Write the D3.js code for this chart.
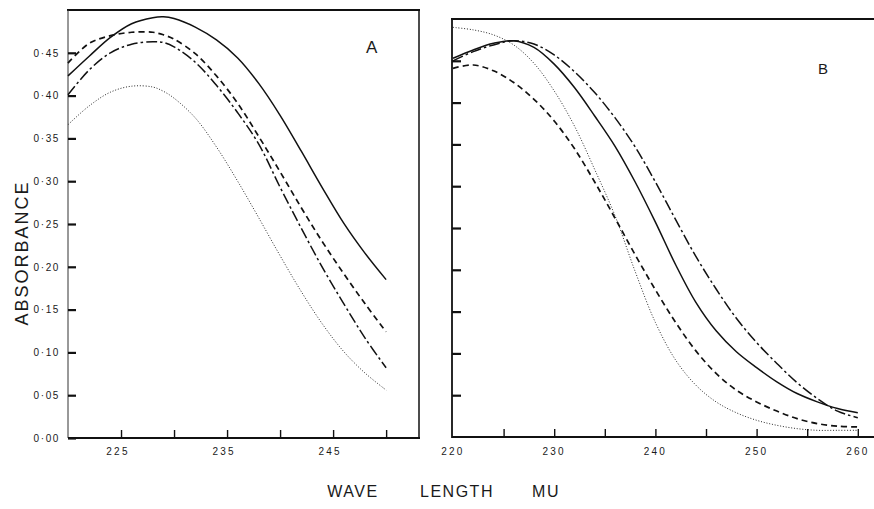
<!DOCTYPE html>
<html>
<head>
<meta charset="utf-8">
<script src="https://cdn.jsdelivr.net/npm/d3@7"></script>
<style>
  body { margin: 0; background: #fff; }
  text { font-family: "Liberation Sans", Arial, sans-serif; fill: #1a1a1a; }
</style>
</head>
<body>
<div id="chart"></div>
<script>
// panel A: absorbance vs wave length (220 - 250)
var waveA = [220, 222, 224, 226, 228, 229, 230, 232, 234, 236, 238, 240, 242, 244, 246, 248, 250];
var solidA = [0.423, 0.446, 0.468, 0.484, 0.491, 0.492, 0.490, 0.480, 0.465, 0.444, 0.414, 0.377, 0.335, 0.292, 0.251, 0.216, 0.185];
var dashedA = [0.438, 0.461, 0.470, 0.474, 0.474, 0.471, 0.466, 0.449, 0.423, 0.391, 0.352, 0.311, 0.269, 0.229, 0.192, 0.157, 0.124];
var dashDotA = [0.401, 0.430, 0.450, 0.460, 0.463, 0.462, 0.457, 0.439, 0.412, 0.380, 0.343, 0.293, 0.245, 0.199, 0.157, 0.117, 0.082];
var dottedA = [0.366, 0.388, 0.404, 0.411, 0.410, 0.405, 0.397, 0.374, 0.340, 0.300, 0.257, 0.213, 0.171, 0.133, 0.101, 0.076, 0.056];

// panel B: 220 - 260
var waveB = [220, 222, 224, 226, 228, 230, 232, 234, 236, 238, 240, 242, 244, 246, 248, 250, 252, 254, 256, 258, 260];
var solidB = [0.453, 0.463, 0.471, 0.474, 0.466, 0.446, 0.418, 0.384, 0.348, 0.305, 0.257, 0.206, 0.161, 0.127, 0.102, 0.083, 0.066, 0.052, 0.042, 0.034, 0.029];
var dashedB = [0.441, 0.445, 0.438, 0.424, 0.404, 0.378, 0.345, 0.305, 0.262, 0.218, 0.176, 0.137, 0.103, 0.076, 0.056, 0.042, 0.031, 0.022, 0.016, 0.013, 0.012];
var dashDotB = [0.450, 0.461, 0.469, 0.474, 0.470, 0.457, 0.437, 0.412, 0.382, 0.347, 0.305, 0.260, 0.216, 0.177, 0.142, 0.113, 0.088, 0.065, 0.046, 0.031, 0.023];
var dottedB = [0.490, 0.487, 0.481, 0.469, 0.447, 0.414, 0.372, 0.320, 0.265, 0.198, 0.137, 0.092, 0.062, 0.042, 0.029, 0.020, 0.014, 0.010, 0.008, 0.008, 0.008];

// ticks
var yTicks = [0, 0.05, 0.10, 0.15, 0.20, 0.25, 0.30, 0.35, 0.40, 0.45];
var xTicksA = [225, 230, 235, 240, 245, 250];
var xLabelsA = [225, 235, 245];
var xTicksB = [225, 230, 235, 240, 245, 250, 255, 260];
var xLabelsB = [220, 230, 240, 250, 260];

var width = 874, height = 509;

var svg = d3.select("#chart")
  .append("svg")
  .attr("width", width)
  .attr("height", height)
  .style("background", "#fff");

var xA = d3.scaleLinear().domain([220, 253.1]).range([68, 419]);
var yA = d3.scaleLinear().domain([0, 0.5]).range([438, 10]);
var xB = d3.scaleLinear().domain([220, 261.6]).range([453, 874]);
var yB = d3.scaleLinear().domain([0, 0.5]).range([437, 19]);

var styles = {
  solid:   { dash: null,          w: 1.5 },
  dashed:  { dash: "6,4",         w: 1.7 },
  dashDot: { dash: "11,3,2.5,3",  w: 1.5 },
  dotted:  { dash: "1,1.8",       w: 0.9 }
};

function drawPanel(x, y, wave, series) {
  var line = d3.line()
    .x(function(d, i) { return x(wave[i]) })
    .y(function(d) { return y(d) })
    .curve(d3.curveCatmullRom.alpha(0.5));
  series.forEach(function(s) {
    svg.append("path")
      .attr("d", line(s.vals))
      .attr("fill", "none")
      .attr("stroke", "#111")
      .attr("stroke-width", styles[s.style].w)
      .attr("stroke-dasharray", styles[s.style].dash);
  });
}

// ---- panel A frame
svg.append("line").attr("x1", 67).attr("x2", 420).attr("y1", 10).attr("y2", 10)
  .attr("stroke", "#111").attr("stroke-width", 2.2);
svg.append("line").attr("x1", 419).attr("x2", 419).attr("y1", 10).attr("y2", 438)
  .attr("stroke", "#111").attr("stroke-width", 1.5);
svg.append("line").attr("x1", 68).attr("x2", 68).attr("y1", 10).attr("y2", 438)
  .attr("stroke", "#333").attr("stroke-width", 1);
svg.append("line").attr("x1", 68).attr("x2", 420).attr("y1", 438).attr("y2", 438)
  .attr("stroke", "#111").attr("stroke-width", 2);

var axA = svg.append("g")
  .attr("transform", "translate(68,0)")
  .call(d3.axisLeft(yA).tickValues(yTicks).tickSize(-8).tickPadding(8)
    .tickFormat(function(d) { return d3.format(".2f")(d).replace(".", "·") }));
axA.select(".domain").remove();
axA.selectAll(".tick line").attr("stroke", "#111").attr("stroke-width", 2.2);
axA.selectAll(".tick text").attr("font-size", 10).attr("letter-spacing", 1.6)
  .attr("font-family", "Liberation Sans").attr("fill", "#222");

var axAx = svg.append("g")
  .attr("transform", "translate(0,438)")
  .call(d3.axisBottom(xA).tickValues(xTicksA).tickSize(-8).tickFormat(""));
axAx.select(".domain").remove();
axAx.selectAll(".tick line").attr("stroke", "#111").attr("stroke-width", 1.4);

svg.selectAll(".labA")
  .data(xLabelsA)
  .enter()
  .append("text")
  .attr("x", function(d) { return xA(d) - 3 })
  .attr("y", 455)
  .attr("text-anchor", "middle")
  .attr("font-size", 10)
  .attr("letter-spacing", 2.2)
  .text(function(d) { return d });

drawPanel(xA, yA, waveA, [
  { vals: solidA, style: "solid" },
  { vals: dashedA, style: "dashed" },
  { vals: dashDotA, style: "dashDot" },
  { vals: dottedA, style: "dotted" }
]);

svg.append("text").attr("x", 366).attr("y", 53).attr("font-size", 17).text("A");

// ---- panel B frame
svg.append("line").attr("x1", 451).attr("x2", 874).attr("y1", 19).attr("y2", 19)
  .attr("stroke", "#111").attr("stroke-width", 2.2);
svg.append("line").attr("x1", 452).attr("x2", 452).attr("y1", 19).attr("y2", 438)
  .attr("stroke", "#111").attr("stroke-width", 1.8);
svg.append("line").attr("x1", 452).attr("x2", 874).attr("y1", 437).attr("y2", 437)
  .attr("stroke", "#111").attr("stroke-width", 2.2);

var axB = svg.append("g")
  .attr("transform", "translate(452,0)")
  .call(d3.axisLeft(yB).tickValues(yTicks.slice(1)).tickSize(-9).tickFormat(""));
axB.select(".domain").remove();
axB.selectAll(".tick line").attr("stroke", "#111").attr("stroke-width", 2.2);

var axBx = svg.append("g")
  .attr("transform", "translate(0,437)")
  .call(d3.axisBottom(xB).tickValues(xTicksB).tickSize(-8).tickFormat(""));
axBx.select(".domain").remove();
axBx.selectAll(".tick line").attr("stroke", "#111").attr("stroke-width", 1.4);

svg.selectAll(".labB")
  .data(xLabelsB)
  .enter()
  .append("text")
  .attr("x", function(d) { return xB(d) })
  .attr("y", 455)
  .attr("text-anchor", "middle")
  .attr("font-size", 10)
  .attr("letter-spacing", 2.2)
  .text(function(d) { return d });

drawPanel(xB, yB, waveB, [
  { vals: solidB, style: "solid" },
  { vals: dashedB, style: "dashed" },
  { vals: dashDotB, style: "dashDot" },
  { vals: dottedB, style: "dotted" }
]);

svg.append("text").attr("x", 818).attr("y", 74).attr("font-size", 15).text("B");

// ---- axis titles
svg.append("text")
  .attr("transform", "translate(28,253) rotate(-90)")
  .attr("text-anchor", "middle")
  .attr("font-size", 18)
  .attr("letter-spacing", 2)
  .text("ABSORBANCE");

var titleX = [["WAVE", 353], ["LENGTH", 457], ["MU", 546]];
svg.selectAll(".xtitle")
  .data(titleX)
  .enter()
  .append("text")
  .attr("x", function(d) { return d[1] })
  .attr("y", 497)
  .attr("text-anchor", "middle")
  .attr("font-size", 16)
  .attr("letter-spacing", 1.5)
  .text(function(d) { return d[0] });
</script>
</body>
</html>
